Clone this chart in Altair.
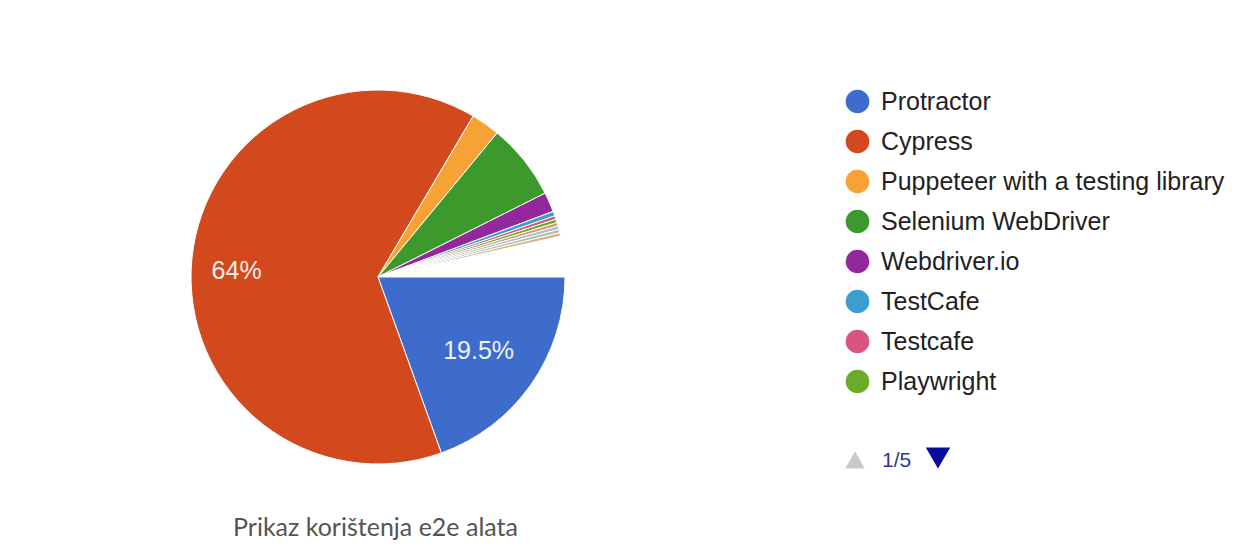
import math
import altair as alt
import pandas as pd

# ---- data ----
categories = [
    "Protractor", "Cypress", "Puppeteer with a testing library",
    "Selenium WebDriver", "Webdriver.io", "TestCafe", "Testcafe", "Playwright",
    "ostalo 1", "ostalo 2", "ostalo 3", "ostalo 4",
]
shares = [19.5, 64, 2.5, 6.6, 1.7, 0.4, 0.3, 0.3, 0.3, 0.3, 0.3, 0.3]
colors = [
    "#3d6ccc", "#d2491d", "#f6a236", "#3c9a2c", "#93289c", "#3c9ecf",
    "#d9547f", "#6aab2a", "#c9a36a", "#b8b3d8", "#a7c4a0", "#d9b38c",
]
legend_items = categories[:8]
pager_text = "1/5"
title_text = "Prikaz korištenja e2e alata"

df = pd.DataFrame({"cat": categories, "value": shares, "idx": list(range(len(categories)))})

theta = alt.Theta(
    "value:Q", stack=True,
    scale=alt.Scale(domain=[0, 100], range=[math.pi / 2, math.pi / 2 + 2 * math.pi]),
)
cx, cy = 370, 269

base = alt.Chart(df)

pie = base.mark_arc(radius=187, stroke="white", strokeWidth=1).encode(
    theta=theta,
    order=alt.Order("idx:Q"),
    x=alt.value(cx),
    y=alt.value(cy),
    color=alt.Color(
        "cat:N",
        sort=categories,
        scale=alt.Scale(domain=categories, range=colors),
        legend=alt.Legend(
            values=legend_items,
            title=None,
            orient="none",
            legendX=837,
            legendY=81,
            symbolType="circle",
            symbolSize=560,
            symbolStrokeWidth=0,
            labelFont="Liberation Sans",
            labelFontSize=25,
            labelColor="#222222",
            labelOffset=11,
            rowPadding=14,
            labelLimit=500,
            padding=0,
        ),
    ),
)

def label_layer(name, r, dy):
    return base.transform_calculate(
        lab=f"datum.cat == '{name}' ? datum.value + '%' : ''"
    ).mark_text(
        radius=r, dy=dy, font="Liberation Sans", fontSize=25, color="white", opacity=0.92
    ).encode(
        theta=theta,
        order=alt.Order("idx:Q"),
        x=alt.value(cx),
        y=alt.value(cy),
        text="lab:N",
    )

lab_big = label_layer("Cypress", 142, 7)
lab_small = label_layer("Protractor", 123, 3)

one = pd.DataFrame({"t": [pager_text]})
up = alt.Chart(one).mark_point(shape="triangle-up", filled=True, size=380, color="#c8c8c8", opacity=1).encode(
    x=alt.value(847), y=alt.value(452)
)
pager = alt.Chart(one).mark_text(
    font="Liberation Sans", fontSize=21, color="#2b3a8e", align="left", baseline="alphabetic"
).encode(text="t:N", x=alt.value(874), y=alt.value(459))
down = alt.Chart(one).mark_point(shape="triangle-down", filled=True, size=600, color="#0a0a9c", opacity=1).encode(
    x=alt.value(930), y=alt.value(450)
)

title = alt.Chart(pd.DataFrame({"t": [title_text]})).mark_text(
    font="Lato", fontSize=25, color="#555555", align="left", baseline="alphabetic"
).encode(text="t:N", x=alt.value(225), y=alt.value(528))

chart = alt.layer(pie, lab_big, lab_small, up, pager, down, title).properties(
    width=1232, height=536, autosize=alt.AutoSizeParams(type="none"), padding=0,
    background="white",
).configure_view(stroke=None)

chart.save("out.html", embed_options={"renderer": "svg", "actions": False})
